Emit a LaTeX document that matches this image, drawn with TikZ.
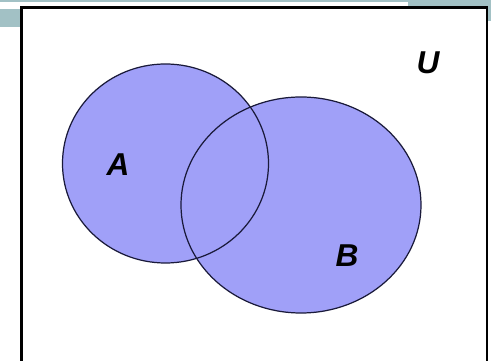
\documentclass[tikz,border=0pt]{standalone}
\usepackage{fontspec}
\setmainfont{Liberation Sans}
\usetikzlibrary{positioning}
\definecolor{Slate}{HTML}{A2C1C5}
\definecolor{Lilac}{HTML}{A0A0F8}
\definecolor{Rim}{HTML}{1A1A3A}
\tikzset{
  setname/.style={font=\fontsize{18}{18}\selectfont\bfseries\itshape},
  setrim/.style={draw=Rim, line width=0.7pt}
}

\begin{document}
\begin{tikzpicture}[x=0.02cm, y=-0.02cm]
    \clip (0,0) rectangle (491,361);
    % slide decoration
    \fill[Slate] (0,0) rectangle (408,2);
    \fill[Slate] (408,0) rectangle (491,21);
    \fill[Slate] (0,9) rectangle (21,27);
    % universe
    \draw[line width=1.3pt, fill=white] (21.5,7.5) rectangle (487,380);
    % sets
    \fill[Lilac] (165.5,163.5) ellipse [x radius=103, y radius=99.5];
    \fill[Lilac] (301,205) ellipse [x radius=120, y radius=108];
    \draw[setrim] (165.5,163.5) ellipse [x radius=103, y radius=99.5];
    \draw[setrim] (301,205) ellipse [x radius=120, y radius=108];
    \node[setname] (a) at (118,165) {A};
    \node[setname] (b) at (347,256) {B};
    \node[setname] (u) at (428,63) {U};
  \end{tikzpicture}
\end{document}
